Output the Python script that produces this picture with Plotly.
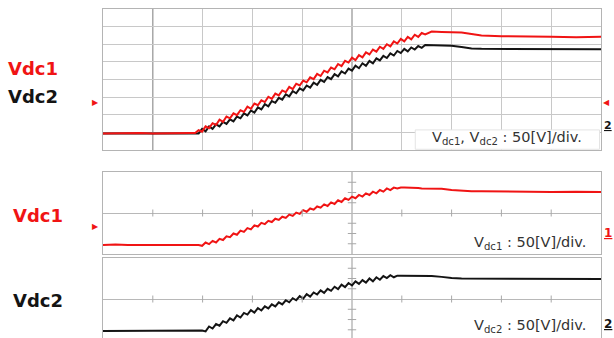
import plotly.graph_objects as go

# ---------------- data (time in divisions, voltage in V; 50 V/div) ----------------
t_pre = [0.0, 0.25, 0.5, 0.75, 1.0, 1.25, 1.5, 1.75]
t_ramp = [1.85, 1.92, 1.99, 2.06, 2.13, 2.20, 2.27, 2.34, 2.41, 2.48, 2.55, 2.62, 2.69,
          2.76, 2.83, 2.90, 2.97, 3.04, 3.11, 3.18, 3.25, 3.32, 3.39, 3.46, 3.53, 3.60,
          3.67, 3.74, 3.81, 3.88, 3.95, 4.02, 4.09, 4.16, 4.23, 4.30, 4.37, 4.44, 4.51,
          4.58, 4.65, 4.72, 4.79, 4.86, 4.93, 5.00, 5.07, 5.14, 5.21, 5.28, 5.35, 5.42,
          5.49, 5.56, 5.63, 5.70, 5.77, 5.84, 5.91, 5.98, 6.05, 6.12, 6.19, 6.26, 6.33,
          6.40, 6.47]
t_post = [6.6, 6.8, 7.0, 7.2, 7.4, 7.6, 8.0, 8.5, 9.0, 9.5, 10.0]

# top panel (both channels, 0..400 V window)
vdc1_top_pre = [47, 48, 47, 48, 47, 48, 47, 48]
vdc1_top_ramp = [48, 56, 52, 67, 62, 76, 71, 86, 80, 95, 90, 104, 99, 113, 108, 123, 117,
                 132, 127, 141, 136, 151, 145, 160, 155, 169, 164, 179, 173, 188, 183, 197,
                 192, 206, 201, 216, 210, 225, 220, 234, 229, 244, 238, 253, 248, 262, 255,
                 269, 263, 277, 271, 285, 279, 293, 287, 300, 294, 308, 302, 315, 308, 321,
                 314, 327, 321, 332, 328]
vdc1_top_post = [336, 335, 334, 333, 329, 325, 323, 321, 321, 320, 321]

vdc2_top_pre = [47, 47, 48, 47, 47, 48, 47, 47]
vdc2_top_ramp = [48, 47, 60, 53, 67, 60, 73, 67, 80, 74, 87, 81, 95, 90, 104, 98, 112, 106,
                 121, 115, 130, 124, 139, 134, 148, 143, 158, 152, 167, 161, 175, 169, 183,
                 177, 191, 185, 199, 193, 207, 201, 215, 209, 223, 217, 231, 225, 239, 232,
                 246, 239, 253, 246, 260, 254, 267, 261, 274, 268, 281, 275, 287, 280, 291,
                 285, 295, 290, 298]
vdc2_top_post = [298, 298, 296, 292, 288, 287, 287, 286, 287, 286, 286]

# middle panel (Vdc1 alone, centred window)
vdc1_mid_pre = [-78, -77, -78, -78, -77, -78, -78, -78]
vdc1_mid_ramp = [-78, -78, -80, -72, -76, -68, -72, -63, -66, -57, -59, -50, -53, -43, -46,
                 -37, -40, -30, -33, -24, -27, -19, -22, -14, -17, -9, -12, -4, -7, 1, -2, 7,
                 3, 11, 8, 16, 13, 21, 17, 26, 22, 31, 27, 36, 32, 40, 36, 44, 40, 48, 44, 52,
                 48, 56, 52, 60, 56, 62, 60, 62, 62, 62, 61, 61, 61, 60, 60]
vdc1_mid_post = [60, 59, 56, 54, 53, 53, 52, 52, 51, 52, 51]

# bottom panel (Vdc2 alone, centred window)
vdc2_bot_pre = [-78, -78, -77, -78, -78, -78, -77, -78]
vdc2_bot_ramp = [-78, -78, -77, -79, -67, -72, -61, -65, -54, -58, -47, -52, -40, -45, -34,
                 -38, -27, -33, -22, -28, -18, -23, -13, -18, -8, -13, -3, -8, 2, -3, 7, 1,
                 12, 6, 16, 11, 21, 15, 25, 20, 30, 24, 35, 29, 39, 33, 43, 37, 46, 40, 50,
                 43, 53, 47, 56, 51, 58, 53, 57, 57, 57, 57, 57, 57, 56, 56, 56]
vdc2_bot_post = [56, 54, 51, 50, 50, 50, 50, 49, 50, 50, 49]

grid_x_light = [0, 2, 3, 4, 6, 7, 8, 9, 10]
grid_x_dark = [1, 5]
grid_t = [1, 2, 3, 4, 6, 7, 8, 9]
grid_v = [-75, -50, -25, 25, 50, 75]

RED = "#f01414"
BLK = "#141414"
W, H = 614, 338

t_all = t_pre + t_ramp + t_post

fig = go.Figure()

def trace(y, color, xa, ya):
    fig.add_trace(go.Scatter(x=t_all, y=y, mode="lines", xaxis=xa, yaxis=ya,
                             line=dict(color=color, width=2.0), hoverinfo="skip",
                             showlegend=False))

trace(vdc2_top_pre + vdc2_top_ramp + vdc2_top_post, BLK, "x", "y")
trace(vdc1_top_pre + vdc1_top_ramp + vdc1_top_post, RED, "x", "y")
trace(vdc1_mid_pre + vdc1_mid_ramp + vdc1_mid_post, RED, "x2", "y2")
trace(vdc2_bot_pre + vdc2_bot_ramp + vdc2_bot_post, BLK, "x3", "y3")

# crosshair tick marks on the centre lines of the lower panels
for xa, ya in (("x2", "y2"), ("x3", "y3")):
    fig.add_trace(go.Scatter(x=grid_t, y=[0] * len(grid_t), mode="markers", xaxis=xa, yaxis=ya,
                             marker=dict(symbol="line-ns", size=5, color="#a8a8a8",
                                         line=dict(color="#a8a8a8", width=1)),
                             hoverinfo="skip", showlegend=False))
    fig.add_trace(go.Scatter(x=[5] * len(grid_v), y=grid_v, mode="markers", xaxis=xa, yaxis=ya,
                             marker=dict(symbol="line-ew", size=6, color="#a8a8a8",
                                         line=dict(color="#a8a8a8", width=1)),
                             hoverinfo="skip", showlegend=False))

xdom = [103 / W, 601 / W]
def ydom(top_px, bot_px):
    return [1 - bot_px / H, 1 - top_px / H]

frame = dict(showline=True, mirror=True, linecolor="#b4b4b4", linewidth=1,
             showticklabels=False, ticks="", fixedrange=True)

fig.update_layout(
    width=W, height=H, margin=dict(l=0, r=0, t=0, b=0),
    paper_bgcolor="white", plot_bgcolor="white",
    xaxis=dict(domain=xdom, range=[0, 10], tickvals=grid_x_light, showgrid=True,
               gridcolor="#c8c8c8", zeroline=False, anchor="y", **frame),
    yaxis=dict(domain=ydom(9, 150), range=[0, 400], dtick=50, showgrid=True,
               gridcolor="#c8c8c8", zeroline=False, anchor="x", **frame),
    xaxis2=dict(domain=xdom, range=[0, 10], showgrid=False, zeroline=False, anchor="y2", **frame),
    yaxis2=dict(domain=ydom(172, 254), range=[-100, 100], showgrid=False, zeroline=True,
                zerolinecolor="#b8b8b8", zerolinewidth=1, anchor="x2", **frame),
    xaxis3=dict(domain=xdom, range=[0, 10], showgrid=False, zeroline=False, anchor="y3", **frame),
    yaxis3=dict(domain=ydom(258, 338), range=[-95, 100], showgrid=False, zeroline=True,
                zerolinecolor="#b8b8b8", zerolinewidth=1, anchor="x3", **frame),
)

shapes = []
for gx in grid_x_dark:
    shapes.append(dict(type="line", xref="x", yref="paper", x0=gx, x1=gx,
                       y0=1 - 150 / H, y1=1 - 9 / H,
                       line=dict(color="#9a9a9a", width=1.3), layer="below"))
shapes.append(dict(type="line", xref="x2", yref="paper", x0=5, x1=5,
                   y0=1 - 254 / H, y1=1 - 172 / H,
                   line=dict(color="#a8a8a8", width=1.2), layer="below"))
shapes.append(dict(type="line", xref="x3", yref="paper", x0=5, x1=5,
                   y0=0, y1=1 - 258 / H,
                   line=dict(color="#a8a8a8", width=1.2), layer="below"))
shapes.append(dict(type="rect", xref="x", yref="y", x0=6.27, x1=9.97, y0=2, y1=57,
                   fillcolor="white", line=dict(color="#e4e4e4", width=1), layer="above"))
fig.update_layout(shapes=shapes)

LBL = "DejaVu Sans"
def ann(text, px, py, size, color, xanchor="center", bold=False, family=LBL):
    fig.add_annotation(text=(f"<b>{text}</b>" if bold else text), x=px / W, y=1 - py / H,
                       xref="paper", yref="paper", showarrow=False, xanchor=xanchor,
                       yanchor="middle", font=dict(family=family, size=size, color=color))

ann("Vdc1", 6, 68, 18, RED, "left", True)
ann("Vdc2", 6, 96, 18, BLK, "left", True)
ann("Vdc1", 11, 215, 18, RED, "left", True)
ann("Vdc2", 11, 300, 18, BLK, "left", True)

ann("▶", 96, 102, 8, RED)
ann("▶", 96, 226, 8, RED)
ann("◀", 606, 102, 8, RED)
ann("<u>2</u>", 608, 125, 11, BLK, bold=True)
ann("<u>1</u>", 608, 233, 12, RED, bold=True)
ann("<u>2</u>", 608, 324, 12, BLK, bold=True)

TXT = "#333333"
ann("V<sub>dc1</sub>, V<sub>dc2</sub> : 50[V]/div.", 507, 138, 14.5, TXT)
ann("V<sub>dc1</sub> : 50[V]/div.", 530, 243, 14.5, TXT)
ann("V<sub>dc2</sub> : 50[V]/div.", 530, 326, 14.5, TXT)

fig.write_html("out.html", post_script="document.body.style.margin='0';",
               config={"displayModeBar": False, "staticPlot": True})
